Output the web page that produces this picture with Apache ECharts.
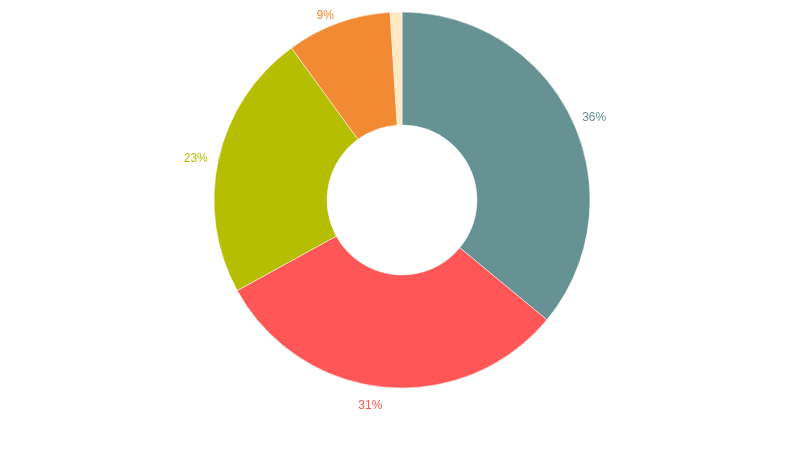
<!DOCTYPE html>
<html>
<head>
<meta charset="utf-8">
<script src="https://cdn.jsdelivr.net/npm/echarts@6/dist/echarts.min.js"></script>
<style>html,body{margin:0;padding:0;background:#fff;}#c{width:800px;height:450px;}</style>
</head>
<body>
<div id="c"></div>
<script>
const names = ['A', 'B', 'C', 'D', 'E'];
const values = [36, 31, 23, 9, 1];
const colors = ['#679294', '#ff5757', '#b5be00', '#f28a33', '#ffe8c2'];
const showLabel = [true, true, true, true, false];

const CX = 402, CY = 200;
const chart = echarts.init(document.getElementById('c'), null, {renderer: 'canvas'});
chart.setOption({
  animation: false,
  series: [{
    type: 'pie',
    center: [CX, CY],
    radius: [75, 188],
    startAngle: 90,
    clockwise: true,
    avoidLabelOverlap: false,
    itemStyle: {borderColor: '#fff', borderWidth: 0.5},
    label: {
      show: true,
      position: 'outside',
      distanceToLabelLine: 1,
      fontSize: 12,
      fontFamily: 'Liberation Sans, Arial, sans-serif',
      formatter: p => Math.round(p.percent) + '%'
    },
    labelLine: {show: false, length: 10, length2: 0},
    labelLayout: function (p) {
      const r = p.labelRect;
      const mx = r.x + r.width / 2 - CX, my = r.y + r.height / 2 - CY;
      const ny = my / Math.sqrt(mx * mx + my * my);
      return {dy: 2 + 7 * Math.max(0, ny)};
    },
    data: names.map((n, i) => ({
      name: n,
      value: values[i],
      itemStyle: {color: colors[i]},
      label: {show: showLabel[i], color: colors[i]}
    }))
  }]
});
</script>
</body>
</html>
